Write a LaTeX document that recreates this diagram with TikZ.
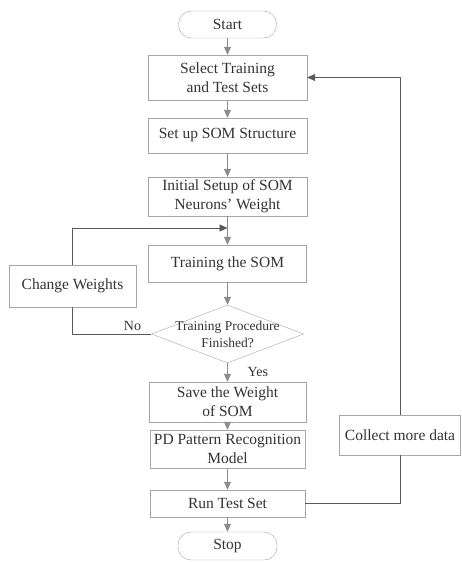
\documentclass[tikz,border=0pt]{standalone}
\usepackage{fontspec}
\setmainfont{Liberation Serif}
\usetikzlibrary{positioning, arrows.meta, shapes.geometric, calc}

\begin{document}
\begin{tikzpicture}[x=1pt, y=-1pt, >={Triangle[length=8pt, width=7pt]},
  box/.style={draw=black!35, fill=white, rectangle, inner sep=0, align=center,
    text=black!80, font=\fontsize{15.5}{19}\selectfont},
  term/.style={box, rounded corners=13pt},
  flow/.style={->, draw=black!45, line width=0.8pt},
  back/.style={draw=black!65, line width=0.9pt},
  lbl/.style={text=black!80, font=\fontsize{14}{16}\selectfont, inner sep=0}]
  \useasboundingbox (0,0) rectangle (461,562);
  % main column
  \node[term, minimum width=98, minimum height=27] (start) at (227.5,24.5) {Start};
  \node[box, minimum width=159, minimum height=45] (sel) at (227.5,77.5) {Select Training\\and Test Sets};
  \node[box, minimum width=159, minimum height=35] (som) at (227.5,135.5) {Set up SOM Structure};
  \node[box, minimum width=159, minimum height=39] (init) at (227.5,196.5) {Initial Setup of SOM\\Neurons' Weight};
  \node[box, minimum width=158, minimum height=37] (train) at (227.5,263.5) {Training the SOM};
  \node[draw=black!35, diamond, minimum width=152, minimum height=58, inner sep=0,
    label={[lbl, align=center, font=\fontsize{13.5}{17}\selectfont]center:Training Procedure\\Finished?}] (fin) at (227.5,334) {};
  \node[box, minimum width=157, minimum height=40] (save) at (227.5,402) {Save the Weight\\of SOM};
  \node[box, minimum width=155, minimum height=38] (pd) at (227.5,449) {PD Pattern Recognition\\Model};
  \node[box, minimum width=155, minimum height=27] (run) at (227.5,503.5) {Run Test Set};
  \node[term, minimum width=99, minimum height=28] (stop) at (227.5,546) {Stop};
  % side boxes
  \node[box, minimum width=127, minimum height=42] (chg) at (72.5,286) {Change Weights};
  \node[box, minimum width=121, minimum height=40] (col) at (400,435) {Collect more data};
  \coordinate (loop) at (227.5,228);
  \node[lbl, anchor=south east] (no) at ($(fin.west)+(-10,-3)$) {No};
  \node[lbl, anchor=west] (yes) at ($(fin.south)+(20,9)$) {Yes};
  % arrows down the column
  \foreach \a/\b in {start/sel, sel/som, som/init, init/train, train/fin, fin/save, save/pd, pd/run, run/stop}{
    \draw[flow] (\a) -- (\b);
  }
  % loops
  \draw[back] (fin.west) -| (chg.south);
  \draw[back, ->] (chg.north) |- (loop);
  \draw[back] (run.east) -| (col.south);
  \draw[back, ->] (col.north) |- (sel.east);
\end{tikzpicture}
\end{document}
